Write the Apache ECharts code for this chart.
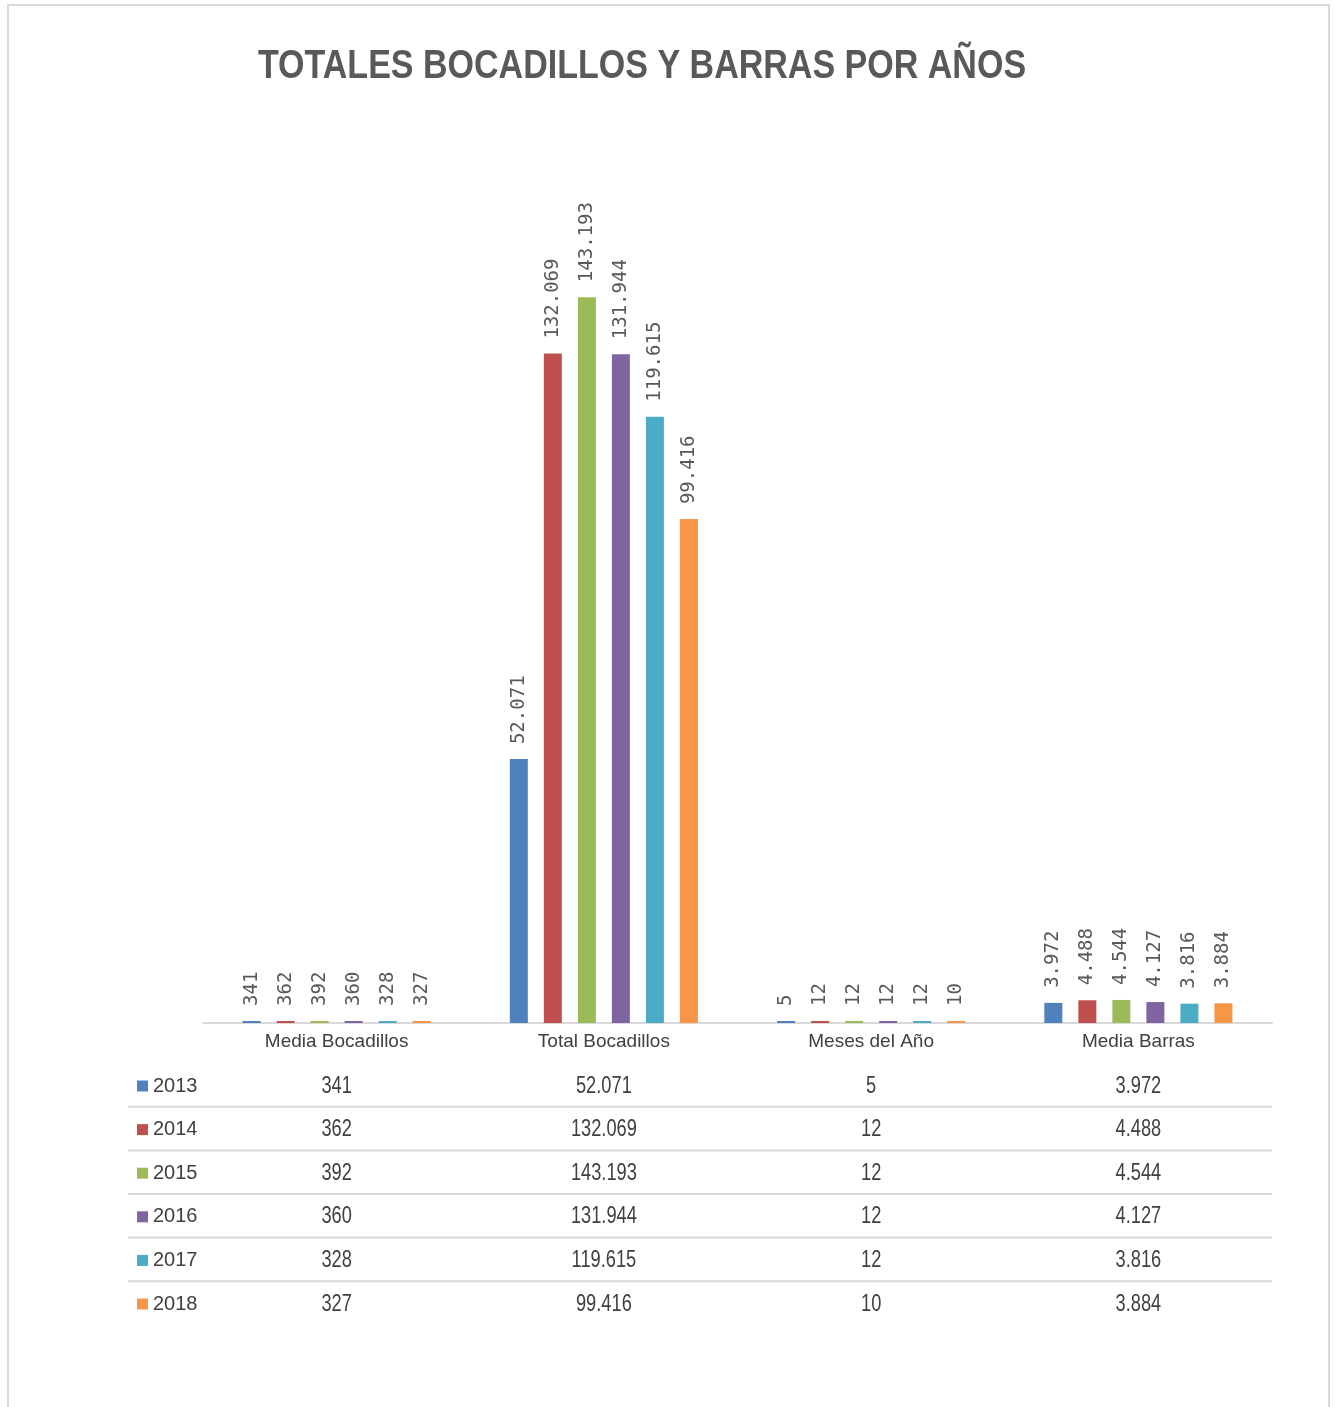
<!DOCTYPE html>
<html>
<head>
<meta charset="utf-8">
<script src="https://cdn.jsdelivr.net/npm/echarts@6/dist/echarts.min.js"></script>
<style>
  html, body { margin: 0; padding: 0; background: #fff; overflow: hidden; }
  #frame { position: absolute; left: 7px; top: 4px; width: 1323px; height: 1420px; border: 2px solid #d9d9d9; box-sizing: border-box; }
  #chart { position: absolute; left: 0; top: 0; width: 1335px; height: 1407px; }
</style>
</head>
<body>
<div id="frame"></div>
<div id="chart"></div>
<script>
// Categories and yearly values (thousands written with "." as separator in labels)
const categories = ['Media Bocadillos', 'Total Bocadillos', 'Meses del Año', 'Media Barras'];
const years = ['2013', '2014', '2015', '2016', '2017', '2018'];
const values2013 = [341, 52071, 5, 3972];
const values2014 = [362, 132069, 12, 4488];
const values2015 = [392, 143193, 12, 4544];
const values2016 = [360, 131944, 12, 4127];
const values2017 = [328, 119615, 12, 3816];
const values2018 = [327, 99416, 10, 3884];
const yearValues = [values2013, values2014, values2015, values2016, values2017, values2018];
const colors = ['#4f81bd', '#c0504d', '#9bbb59', '#8064a2', '#4bacc6', '#f79646'];
const titleText = 'TOTALES BOCADILLOS Y BARRAS POR AÑOS';

const fmt = n => String(n).replace(/\B(?=(\d{3})+(?!\d))/g, '.');

const chart = echarts.init(document.getElementById('chart'));

const series = years.map((y, i) => ({
  name: y,
  type: 'bar',
  data: yearValues[i],
  barWidth: 18,
  barGap: '89%',
  barMinHeight: 2,
  itemStyle: { color: colors[i] },
  label: {
    show: true,
    position: 'top',
    rotate: 90,
    align: 'left',
    verticalAlign: 'middle',
    distance: 15,
    color: '#595959',
    fontFamily: 'DejaVu Sans Mono',
    fontSize: 19,
    formatter: p => fmt(p.value)
  }
}));

chart.setOption({
  animation: false,
  backgroundColor: 'transparent',
  grid: { left: 203, right: 63, top: 212, bottom: 384 },
  xAxis: {
    type: 'category',
    data: categories,
    axisLine: { lineStyle: { color: '#d9d9d9', width: 2 } },
    axisTick: { show: false },
    axisLabel: { color: '#404040', fontSize: 19, fontFamily: 'Liberation Sans', margin: 9 }
  },
  yAxis: { type: 'value', min: 0, max: 160000, show: false, splitLine: { show: false } },
  legend: {
    data: years,
    orient: 'vertical',
    left: 137,
    top: 1076,
    padding: 0,
    icon: 'rect',
    itemWidth: 11,
    itemHeight: 11,
    itemGap: 23.6,
    textStyle: { color: '#404040', fontSize: 20, lineHeight: 20, fontFamily: 'Liberation Sans' },
    selectedMode: false
  },
  series: series
});

// Data table under the axis: one row per year, one column per category
const rowY0 = 1085, rowStep = 43.6;
const tableLeft = 128, tableRight = 1272;
const graphic = [{
  type: 'text', x: 642, y: 67, scaleX: 0.83,
  style: { x: 0, y: 0, text: titleText, textAlign: 'center', textVerticalAlign: 'middle',
           fill: '#595959', font: 'bold 41px "Liberation Sans"' }
}];
years.forEach((y, r) => {
  const cy = rowY0 + r * rowStep;
  categories.forEach((c, k) => {
    const cx = chart.convertToPixel({ xAxisIndex: 0 }, c);
    graphic.push({
      type: 'text', x: cx, y: cy + 1, scaleX: 0.76,
      style: { x: 0, y: 0, text: fmt(yearValues[r][k]), textAlign: 'center', textVerticalAlign: 'middle',
               fill: '#404040', font: '24px "Liberation Sans"' }
    });
  });
  if (r < years.length - 1) {
    graphic.push({
      type: 'line',
      shape: { x1: tableLeft, y1: cy + rowStep / 2, x2: tableRight, y2: cy + rowStep / 2 },
      style: { stroke: '#d9d9d9', lineWidth: 2 }
    });
  }
});
chart.setOption({ graphic: graphic });
</script>
</body>
</html>
